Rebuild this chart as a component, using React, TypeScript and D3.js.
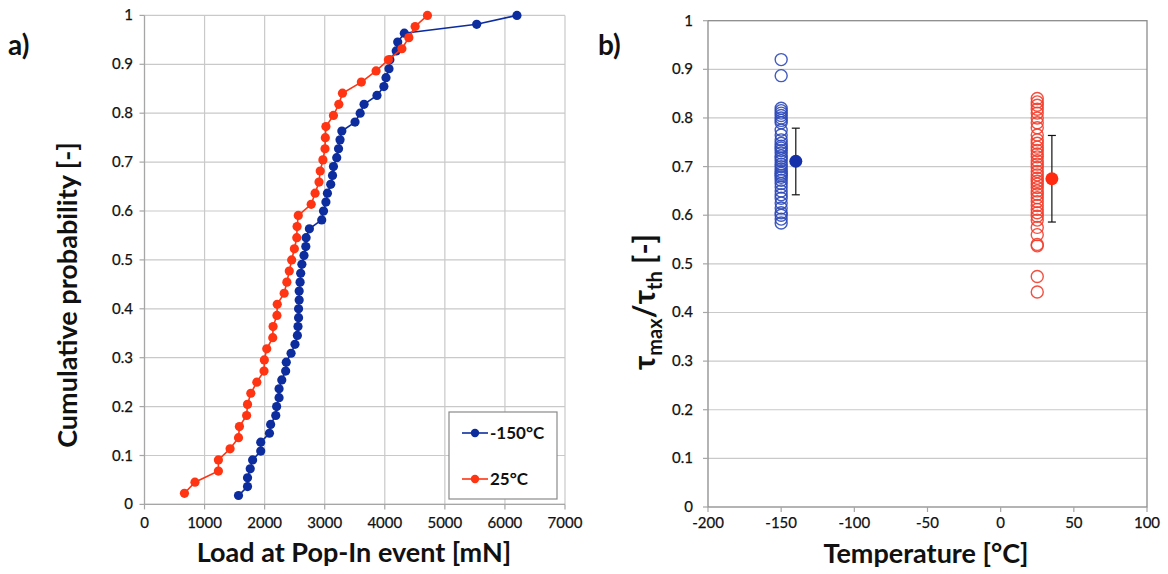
import React from "react";
import * as d3 from "d3";

// ---------- Panel a data: load at pop-in (sorted), cumulative probability = rank / n
const loadMinus150: number[] = [
  1565, 1715, 1715, 1760, 1800, 1935, 1935, 2080, 2100, 2185,
  2200, 2240, 2240, 2285, 2350, 2360, 2440, 2505, 2545, 2555,
  2565, 2565, 2575, 2575, 2590, 2600, 2620, 2655, 2685, 2690,
  2745, 2950, 2980, 3020, 3045, 3100, 3130, 3145, 3200, 3230,
  3255, 3285, 3505, 3590, 3655, 3870, 3985, 4020, 4070, 4085,
  4190, 4215, 4325, 5530, 6200,
];
const load25: number[] = [
  665, 840, 1230, 1230, 1425, 1565, 1580, 1700, 1715, 1770,
  1870, 1990, 1995, 2035, 2135, 2140, 2205, 2210, 2325, 2370,
  2410, 2450, 2495, 2535, 2540, 2560, 2775, 2840, 2905, 2925,
  2970, 3005, 3010, 3020, 3145, 3235, 3295, 3610, 3855, 4060,
  4285, 4400, 4505, 4710,
];
const xTicksA: number[] = [0, 1000, 2000, 3000, 4000, 5000, 6000, 7000];
const yTicks: number[] = [0, 0.1, 0.2, 0.3, 0.4, 0.5, 0.6, 0.7, 0.8, 0.9, 1];
const seriesNamesA: string[] = ["-150°C", "25°C"];

// ---------- Panel b data: tau_max / tau_th
const tempMinus150 = -150;
const temp25 = 25;
const ratioMinus150: number[] = [
  0.92, 0.887, 0.82, 0.815, 0.81, 0.805, 0.8, 0.795, 0.79, 0.775,
  0.765, 0.755, 0.748, 0.742, 0.738, 0.733, 0.728, 0.722, 0.717, 0.712,
  0.705, 0.7, 0.695, 0.69, 0.686, 0.682, 0.678, 0.672, 0.665, 0.658,
  0.65, 0.642, 0.635, 0.625, 0.615, 0.605, 0.6, 0.592, 0.584,
];
const ratio25: number[] = [
  0.84, 0.833, 0.826, 0.818, 0.81, 0.8, 0.79, 0.78, 0.765, 0.755,
  0.748, 0.74, 0.733, 0.726, 0.72, 0.712, 0.705, 0.698, 0.69, 0.683,
  0.676, 0.67, 0.664, 0.657, 0.65, 0.643, 0.636, 0.628, 0.62, 0.612,
  0.605, 0.598, 0.59, 0.575, 0.56, 0.54, 0.537, 0.474, 0.442,
];
// mean markers (offset to the right) with error bars [temp, mean, low, high]
const meanMinus150: number[] = [-140, 0.711, 0.642, 0.779];
const mean25: number[] = [35, 0.675, 0.586, 0.764];
const xTicksB: number[] = [-200, -150, -100, -50, 0, 50, 100];

const BLUE = "#0d2c9e";
const RED = "#ff3412";
const BLUE_B = "#2d49b8";
const RED_B = "#f23d2b";
const GRID = "#c9c9c9";
const AXIS = "#a6a6a6";
const FONT = "Lato, 'Open Sans', sans-serif";

export default function App() {
  // Panel a scales
  const xA = d3.scaleLinear().domain([0, 7000]).range([144.5, 565]);
  const yA = d3.scaleLinear().domain([0, 1]).range([504.4, 15.4]);
  // Panel b scales
  const xB = d3.scaleLinear().domain([-200, 100]).range([708, 1147]);
  const yB = d3.scaleLinear().domain([0, 1]).range([507, 20.7]);

  const ecdf = (arr: number[]) => arr.map((v, i) => [v, (i + 1) / arr.length] as [number, number]);
  const lineA = d3
    .line<[number, number]>()
    .x((d) => xA(d[0]))
    .y((d) => yA(d[1]));

  const seriesA = [
    { name: seriesNamesA[0], color: BLUE, pts: ecdf(loadMinus150) },
    { name: seriesNamesA[1], color: RED, pts: ecdf(load25) },
  ];

  const [x0A, x1A] = xA.range();
  const [y0A, y1A] = yA.range();
  const [x0B, x1B] = xB.range();
  const [y0B, y1B] = yB.range();

  const tickText = { fontSize: 15, fill: "#111", stroke: "#111", strokeWidth: 0.25 };

  const errBar = (m: number[], color: string) => {
    const cx = xB(m[0]);
    return (
      <g>
        <line x1={cx} x2={cx} y1={yB(m[2])} y2={yB(m[3])} stroke="#111" strokeWidth={1.2} />
        <line x1={cx - 4} x2={cx + 4} y1={yB(m[2])} y2={yB(m[2])} stroke="#111" strokeWidth={1.2} />
        <line x1={cx - 4} x2={cx + 4} y1={yB(m[3])} y2={yB(m[3])} stroke="#111" strokeWidth={1.2} />
        <circle cx={cx} cy={yB(m[1])} r={6.5} fill={color} />
      </g>
    );
  };

  return (
    <svg
      width={1168}
      height={574}
      style={{ position: "absolute", left: 0, top: 0, display: "block", background: "#fff" }}
      fontFamily={FONT}
    >
      {/* ================= Panel a ================= */}
      <text x={8} y={55} fontSize={28} fontWeight="bold" fill="#111">a)</text>
      {/* grid */}
      {xTicksA.map((t) => (
        <line key={"gxa" + t} x1={xA(t)} x2={xA(t)} y1={y1A} y2={y0A} stroke={GRID} strokeWidth={1.2} />
      ))}
      {yTicks.map((t) => (
        <line key={"gya" + t} x1={x0A} x2={x1A} y1={yA(t)} y2={yA(t)} stroke={GRID} strokeWidth={1.2} />
      ))}
      {/* axes */}
      <line x1={x0A} x2={x0A} y1={y1A} y2={y0A} stroke={AXIS} strokeWidth={1.2} />
      <line x1={x0A} x2={x1A} y1={y0A} y2={y0A} stroke={AXIS} strokeWidth={1.2} />
      {xTicksA.map((t) => (
        <line key={"txa" + t} x1={xA(t)} x2={xA(t)} y1={y0A} y2={y0A + 5} stroke={AXIS} strokeWidth={1.2} />
      ))}
      {yTicks.map((t) => (
        <line key={"tya" + t} x1={x0A - 5} x2={x0A} y1={yA(t)} y2={yA(t)} stroke={AXIS} strokeWidth={1.2} />
      ))}
      {xTicksA.map((t) => (
        <text key={"lxa" + t} x={xA(t)} y={528} textAnchor="middle" {...tickText}>{t}</text>
      ))}
      {yTicks.map((t) => (
        <text key={"lya" + t} x={133} y={yA(t) + 5} textAnchor="end" {...tickText}>{String(t)}</text>
      ))}
      {/* series */}
      {seriesA.map((s) => (
        <g key={s.name}>
          <path d={lineA(s.pts) || ""} fill="none" stroke={s.color} strokeWidth={1.6} />
          {s.pts.map((p, i) => (
            <circle key={i} cx={xA(p[0])} cy={yA(p[1])} r={4.6} fill={s.color} />
          ))}
        </g>
      ))}
      {/* legend */}
      <rect x={449} y={412} width={108} height={87} fill="#fff" stroke="#8a8a8a" strokeWidth={1.2} />
      {seriesA.map((s, i) => {
        const ly = 433 + i * 46;
        return (
          <g key={"leg" + i}>
            <line x1={462} x2={488} y1={ly} y2={ly} stroke={s.color} strokeWidth={1.6} />
            <circle cx={475} cy={ly} r={4.2} fill={s.color} />
            <text x={490} y={ly + 6} fontSize={17} fontWeight="bold" fill="#111">{s.name}</text>
          </g>
        );
      })}
      {/* titles */}
      <text x={354} y={562} fontSize={27} fontWeight="bold" textAnchor="middle" fill="#111">
        Load at Pop-In event [mN]
      </text>
      <text
        transform="translate(77,295) rotate(-90)"
        fontSize={27}
        fontWeight="bold"
        textAnchor="middle"
        fill="#111"
      >
        Cumulative probability [-]
      </text>

      {/* ================= Panel b ================= */}
      <text x={598} y={55} fontSize={28} fontWeight="bold" fill="#111">b)</text>
      {yTicks.filter((t) => t > 0 && t < 1).map((t) => (
        <line key={"gyb" + t} x1={x0B} x2={x1B} y1={yB(t)} y2={yB(t)} stroke={GRID} strokeWidth={1.2} />
      ))}
      <rect x={x0B} y={y1B} width={x1B - x0B} height={y0B - y1B} fill="none" stroke="#8c8c8c" strokeWidth={1.3} />
      {xTicksB.map((t) => (
        <line key={"txb" + t} x1={xB(t)} x2={xB(t)} y1={y0B} y2={y0B + 5} stroke={AXIS} strokeWidth={1.2} />
      ))}
      {yTicks.map((t) => (
        <line key={"tyb" + t} x1={x0B - 5} x2={x0B} y1={yB(t)} y2={yB(t)} stroke={AXIS} strokeWidth={1.2} />
      ))}
      {xTicksB.map((t) => (
        <text key={"lxb" + t} x={xB(t)} y={528} textAnchor="middle" {...tickText}>{t}</text>
      ))}
      {yTicks.map((t) => (
        <text key={"lyb" + t} x={693} y={yB(t) + 5} textAnchor="end" {...tickText}>{String(t)}</text>
      ))}
      {/* scatter */}
      {ratioMinus150.map((v, i) => (
        <circle key={"b" + i} cx={xB(tempMinus150)} cy={yB(v)} r={6} fill="none" stroke={BLUE_B} strokeWidth={1.4} strokeOpacity={0.9} />
      ))}
      {ratio25.map((v, i) => (
        <circle key={"r" + i} cx={xB(temp25)} cy={yB(v)} r={6} fill="none" stroke={RED_B} strokeWidth={1.4} strokeOpacity={0.9} />
      ))}
      {errBar(meanMinus150, "#1530a8")}
      {errBar(mean25, "#ff2a10")}
      {/* titles */}
      <text x={926} y={563} fontSize={27} fontWeight="bold" textAnchor="middle" fill="#111">
        Temperature [°C]
      </text>
      <text
        transform="translate(655,302) rotate(-90)"
        fontSize={30}
        fontWeight="bold"
        textAnchor="middle"
        fill="#111"
      >
        τ<tspan fontSize={20} dy={7}>max</tspan>
        <tspan dy={-7}>/τ</tspan>
        <tspan fontSize={20} dy={7}>th</tspan>
        <tspan dy={-7}> [-]</tspan>
      </text>
    </svg>
  );
}
